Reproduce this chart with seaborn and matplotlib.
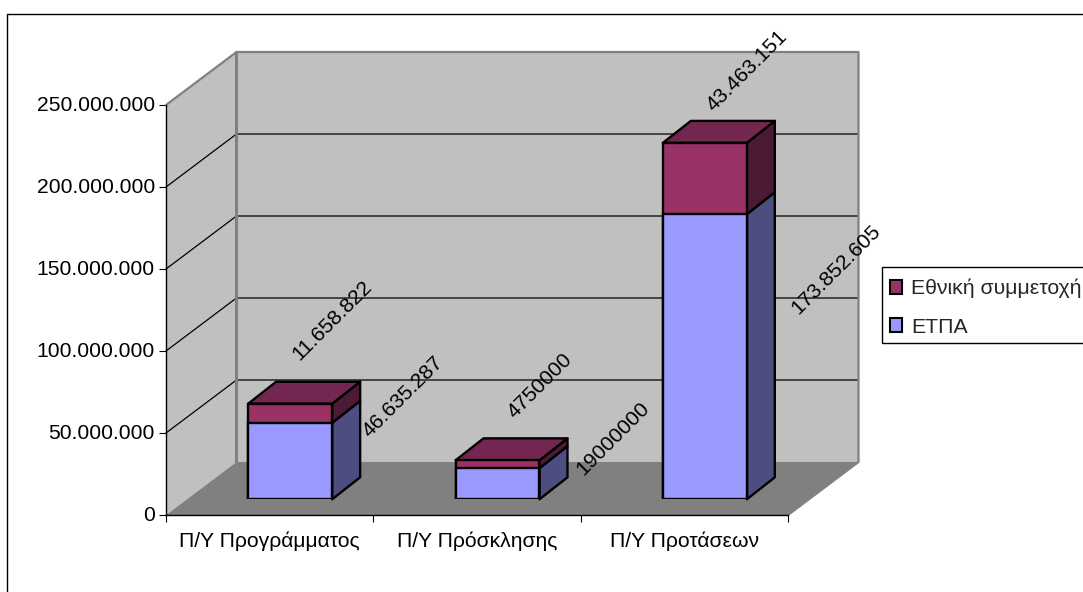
import matplotlib
matplotlib.use("Agg")
import matplotlib.pyplot as plt
import seaborn as sns
from matplotlib.lines import Line2D
from matplotlib.patches import Patch, Polygon, Rectangle
from matplotlib.ticker import FuncFormatter
from matplotlib.transforms import Affine2D

categories = ["Π/Υ Προγράμματος", "Π/Υ Πρόσκλησης", "Π/Υ Προτάσεων"]
etpa = [46635287, 19000000, 173852605]
national = [11658822, 4750000, 43463151]
etpa_labels = ["46.635.287", "19000000", "173.852.605"]
national_labels = ["11.658.822", "4750000", "43.463.151"]
y_ticks = [0, 50000000, 100000000, 150000000, 200000000, 250000000]

W, H = 1083, 592
FONT = 15.2

sns.set_style("white")
plt.rcParams["font.family"] = ["Liberation Sans", "DejaVu Sans"]

fig = plt.figure(figsize=(W / 100, H / 100), dpi=100, facecolor="white")


def add_axes_px(left, right, top, bottom):
    return fig.add_axes([left / W, 1 - bottom / H, (right - left) / W, (bottom - top) / H])


# front plane of the 3d box
ax = add_axes_px(166, 788, 105, 515)
ax.set_xlim(-0.5, 2.5)
ax.set_ylim(0, 250000000)
ax.patch.set_visible(False)

# px -> data units
px_x = 3 / 622
px_y = 250000000 / 410
wall_dx = 70.5 * px_x
wall_dy = 53 * px_y
depth_dx = 28 * px_x
depth_dy = 22 * px_y

x0, x1 = ax.get_xlim()
y_top = ax.get_ylim()[1]
ax.add_patch(Polygon([(x0, 0), (x0 + wall_dx, wall_dy), (x0 + wall_dx, y_top + wall_dy), (x0, y_top)],
                     closed=True, fc="#C0C0C0", ec="none", clip_on=False, zorder=0))
ax.add_patch(Polygon([(x0 + wall_dx, wall_dy), (x1 + wall_dx, wall_dy), (x1 + wall_dx, y_top + wall_dy),
                      (x0 + wall_dx, y_top + wall_dy)],
                     closed=True, fc="#C0C0C0", ec="none", clip_on=False, zorder=0))
ax.add_patch(Polygon([(x0, 0), (x0 + wall_dx, wall_dy), (x1 + wall_dx, wall_dy), (x1, 0)],
                     closed=True, fc="#808080", ec="none", clip_on=False, zorder=1))

# gridlines run along the side wall and the back wall
for t in y_ticks[1:-1]:
    ax.plot([x0, x0 + wall_dx, x1 + wall_dx], [t, t + wall_dy, t + wall_dy],
            color="black", lw=0.9, clip_on=False, zorder=1)

# grey outline of the walls
ax.plot([x0, x0 + wall_dx, x1 + wall_dx, x1 + wall_dx, x1],
        [y_top, y_top + wall_dy, y_top + wall_dy, wall_dy, 0],
        color="#808080", lw=1.6, clip_on=False, zorder=2)
ax.plot([x0 + wall_dx, x0 + wall_dx], [wall_dy, y_top + wall_dy],
        color="#808080", lw=2.2, clip_on=False, zorder=2)

for name in ["top", "right"]:
    ax.spines[name].set_visible(False)
for name in ["left", "bottom"]:
    ax.spines[name].set_color("black")
    ax.spines[name].set_linewidth(1)
    ax.spines[name].set_zorder(3)

ax.set_yticks(y_ticks)
ax.yaxis.set_major_formatter(FuncFormatter(lambda v, pos: f"{v:,.0f}".replace(",", ".")))
ax.set_xticks([-0.5, 0.5, 1.5, 2.5])
ax.set_xticklabels([])
ax.set_xticks(range(len(categories)), labels=categories, minor=True)
ax.tick_params(axis="both", which="major", left=True, bottom=True, length=5, width=0.8,
               color="black", labelsize=FONT, labelcolor="black", pad=3)
ax.tick_params(axis="x", which="minor", bottom=False, length=0, labelsize=FONT,
               labelcolor="black", pad=12)
# y labels sit a little above their ticks
for lab in ax.get_yticklabels():
    lab.set_transform(lab.get_transform() + Affine2D().translate(0, 1.7))

# bars sit in the middle of the depth, so they get their own shifted axes
bar_ax = add_axes_px(186.5, 808.5, 89.3, 499.3)
totals = [a + b for a, b in zip(etpa, national)]
sns.barplot(x=categories, y=totals, color="#993366", saturation=1, width=0.405,
            edgecolor="black", linewidth=1.7, ax=bar_ax, zorder=3)
sns.barplot(x=categories, y=etpa, color="#9999FF", saturation=1, width=0.405,
            edgecolor="black", linewidth=1.7, ax=bar_ax, zorder=3)
bar_ax.set_xlim(-0.5, 2.5)
bar_ax.set_ylim(0, 250000000)
bar_ax.axis("off")

for i in range(len(categories)):
    total_bar = bar_ax.patches[i]
    l = total_bar.get_x()
    r = l + total_bar.get_width()
    mid = etpa[i]
    top = totals[i]
    side_blue = [(r, 0), (r + depth_dx, depth_dy), (r + depth_dx, mid + depth_dy), (r, mid)]
    side_red = [(r, mid), (r + depth_dx, mid + depth_dy), (r + depth_dx, top + depth_dy), (r, top)]
    roof = [(l, top), (l + depth_dx, top + depth_dy), (r + depth_dx, top + depth_dy), (r, top)]
    for pts, col in [(side_blue, "#4D4D80"), (side_red, "#4D1A33"), (roof, "#732650")]:
        bar_ax.add_patch(Polygon(pts, closed=True, fc=col, ec="black", lw=1.7,
                                 joinstyle="round", clip_on=False, zorder=2))

# rotated value labels, pixel offsets from the middle of each segment
etpa_offsets = [(113, 64), (115.5, 45), (131, 87)]
national_offsets = [(42, 93), (42, 78), (42, 108)]
for i in range(len(categories)):
    bar_ax.annotate(etpa_labels[i], (i, etpa[i] / 2), xytext=etpa_offsets[i], textcoords="offset pixels",
                    rotation=45, rotation_mode="anchor", ha="center", va="center",
                    fontsize=FONT, color="black", annotation_clip=False, zorder=5)
    bar_ax.annotate(national_labels[i], (i, etpa[i] + national[i] / 2), xytext=national_offsets[i],
                    textcoords="offset pixels", rotation=45, rotation_mode="anchor", ha="center",
                    va="center", fontsize=FONT, color="black", annotation_clip=False, zorder=5)

# chart area border, only left and top are inside the picture
fig.add_artist(Line2D([7 / W, 7 / W, 1], [0, 1 - 14 / H, 1 - 14 / H], color="black", lw=1))

# legend box runs off the right edge of the picture
fig.add_artist(Rectangle((882 / W, 1 - 343 / H), 210 / W, 76 / H, transform=fig.transFigure,
                         fc="white", ec="black", lw=1, clip_on=True))
handles = [Patch(fc="#993366", ec="black", lw=1.5), Patch(fc="#9999FF", ec="black", lw=1.5)]
leg = fig.legend(handles, ["Εθνική συμμετοχή", "ΕΤΠΑ"], loc="upper left",
                 bbox_to_anchor=(889.5 / W, 1 - 279 / H), bbox_transform=fig.transFigure,
                 fontsize=15.3, frameon=False, borderpad=0, labelspacing=0.9, handlelength=0.6,
                 handleheight=0.6, handletextpad=0.42, borderaxespad=0)

fig.savefig("out.png", dpi=100)
